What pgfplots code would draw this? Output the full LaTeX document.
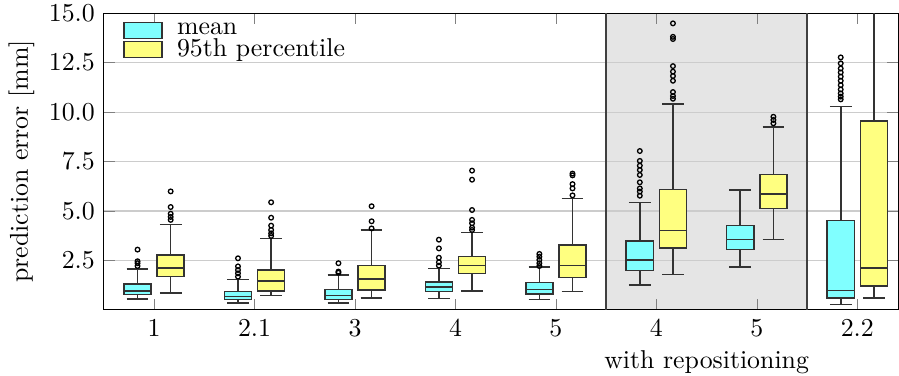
\documentclass[border=0pt]{standalone}
\usepackage{pgfplots}
\pgfplotsset{compat=1.18}
\usepgfplotslibrary{statistics}
\definecolor{boxcyan}{RGB}{128,255,255}
\definecolor{boxyellow}{RGB}{255,255,128}
\begin{document}
\begin{tikzpicture}
\begin{axis}[
  scale only axis, width=307.8pt, height=115pt,
  xmin=0.5, xmax=8.41, ymin=0, ymax=15,
  xtick={1,...,8}, xticklabels={1,2.1,3,4,5,4,5,2.2},
  ytick={2.5,5,7.5,10,12.5,15},
  yticklabel style={inner ysep=1.84pt, /pgf/number format/.cd, fixed, fixed zerofill, precision=1},
  ymajorgrids, grid style={gray!40},
  major tick style={gray},
  tick align=inside,
  ylabel={prediction error [mm]},
  ylabel style={yshift=-1.27pt},
  set layers,
  clip=true,
  boxplot/draw direction=y,
  boxplot/box extend=0.27,
  legend style={at={(0.02,0.995)}, anchor=north west, xshift=-1.9pt, yshift=1pt, draw=none, fill=none, row sep=-3.8pt},
  legend cell align=left,
  legend image code/.code={\draw[#1] (0pt,-3.1pt) rectangle (14.7pt,3.1pt); \path (18.3pt,0pt);},
]
\addlegendimage{fill=boxcyan, draw=black!80, semithick}
\addlegendentry{mean}
\addlegendimage{fill=boxyellow, draw=black!80, semithick}
\addlegendentry{95th percentile}

\addplot[on layer=axis background, fill=gray!20, draw=none, forget plot] coordinates {(5.5,15)(7.5,15)} \closedcycle;
\addplot[black!75, line width=0.8pt, forget plot] coordinates {(5.5,0)(5.5,15)};
\addplot[black!75, line width=0.8pt, forget plot] coordinates {(7.5,0)(7.5,15)};

\pgfplotsset{
  cy/.style={forget plot, draw=black!80, semithick, fill=boxcyan, mark=o, mark size=0.9pt, mark options={black, fill=none, line width=0.5pt}},
  ye/.style={forget plot, draw=black!80, semithick, fill=boxyellow, mark=o, mark size=0.9pt, mark options={black, fill=none, line width=0.5pt}},
}

% group 1
\addplot[cy, boxplot prepared={draw position=0.835, lower whisker=0.54, lower quartile=0.77, median=0.96, upper quartile=1.30, upper whisker=2.07}]
  table[row sep=\\, y index=0] {2.22\\ 2.36\\ 2.46\\ 3.05\\};
\addplot[ye, boxplot prepared={draw position=1.165, lower whisker=0.87, lower quartile=1.68, median=2.12, upper quartile=2.78, upper whisker=4.31}]
  table[row sep=\\, y index=0] {4.55\\ 4.70\\ 4.86\\ 5.20\\ 5.99\\};
% group 2.1
\addplot[cy, boxplot prepared={draw position=1.835, lower whisker=0.34, lower quartile=0.52, median=0.69, upper quartile=0.94, upper whisker=1.53}]
  table[row sep=\\, y index=0] {1.68\\ 1.85\\ 2.02\\ 2.20\\ 2.61\\};
\addplot[ye, boxplot prepared={draw position=2.165, lower whisker=0.72, lower quartile=0.96, median=1.46, upper quartile=2.02, upper whisker=3.60}]
  table[row sep=\\, y index=0] {3.74\\ 3.87\\ 4.04\\ 4.26\\ 4.66\\ 5.44\\};
% group 3
\addplot[cy, boxplot prepared={draw position=2.835, lower whisker=0.34, lower quartile=0.52, median=0.74, upper quartile=1.04, upper whisker=1.77}]
  table[row sep=\\, y index=0] {1.88\\ 1.94\\ 2.36\\};
\addplot[ye, boxplot prepared={draw position=3.165, lower whisker=0.61, lower quartile=1.01, median=1.57, upper quartile=2.24, upper whisker=4.04}]
  table[row sep=\\, y index=0] {4.12\\ 4.48\\ 5.24\\};
% group 4
\addplot[cy, boxplot prepared={draw position=3.835, lower whisker=0.57, lower quartile=0.93, median=1.15, upper quartile=1.41, upper whisker=2.10}]
  table[row sep=\\, y index=0] {2.24\\ 2.41\\ 2.64\\ 3.11\\ 3.55\\};
\addplot[ye, boxplot prepared={draw position=4.165, lower whisker=0.96, lower quartile=1.85, median=2.24, upper quartile=2.69, upper whisker=3.91}]
  table[row sep=\\, y index=0] {4.04\\ 4.16\\ 4.38\\ 4.55\\ 5.05\\ 6.58\\ 7.04\\};
% group 5
\addplot[cy, boxplot prepared={draw position=4.835, lower whisker=0.52, lower quartile=0.81, median=1.04, upper quartile=1.38, upper whisker=2.16}]
  table[row sep=\\, y index=0] {2.22\\ 2.36\\ 2.53\\ 2.69\\ 2.83\\};
\addplot[ye, boxplot prepared={draw position=5.165, lower whisker=0.94, lower quartile=1.63, median=2.24, upper quartile=3.28, upper whisker=5.64}]
  table[row sep=\\, y index=0] {5.79\\ 6.14\\ 6.36\\ 6.80\\ 6.89\\};
% group 4 with repositioning
\addplot[cy, boxplot prepared={draw position=5.835, lower whisker=1.25, lower quartile=2.00, median=2.53, upper quartile=3.48, upper whisker=5.44}]
  table[row sep=\\, y index=0] {5.77\\ 5.98\\ 6.14\\ 6.45\\ 6.82\\ 7.07\\ 7.29\\ 7.53\\ 8.03\\};
\addplot[ye, boxplot prepared={draw position=6.165, lower whisker=1.78, lower quartile=3.13, median=4.02, upper quartile=6.08, upper whisker=10.40}]
  table[row sep=\\, y index=0] {10.67\\ 10.81\\ 11.01\\ 11.58\\ 11.82\\ 12.04\\ 12.32\\ 13.69\\ 13.80\\ 14.48\\};
% group 5 with repositioning
\addplot[cy, boxplot prepared={draw position=6.835, lower whisker=2.16, lower quartile=3.05, median=3.57, upper quartile=4.26, upper whisker=6.05}]
  coordinates {};
\addplot[ye, boxplot prepared={draw position=7.165, lower whisker=3.57, lower quartile=5.13, median=5.86, upper quartile=6.85, upper whisker=9.24}]
  table[row sep=\\, y index=0] {9.43\\ 9.60\\ 9.76\\};
% group 2.2
\addplot[cy, boxplot prepared={draw position=7.835, lower whisker=0.27, lower quartile=0.61, median=0.99, upper quartile=4.51, upper whisker=10.27}]
  table[row sep=\\, y index=0] {10.64\\ 10.78\\ 10.94\\ 11.14\\ 11.36\\ 11.58\\ 11.79\\ 12.00\\ 12.20\\ 12.46\\ 12.76\\};
\addplot[ye, boxplot prepared={draw position=8.165, lower whisker=0.59, lower quartile=1.21, median=2.12, upper quartile=9.55, upper whisker=17}]
  coordinates {};

\coordinate (rep) at (axis cs:6.5,0);
\end{axis}
\node[anchor=base, yshift=-22.5pt, inner ysep=0.76pt] at (rep) {with repositioning};
\end{tikzpicture}
\end{document}
